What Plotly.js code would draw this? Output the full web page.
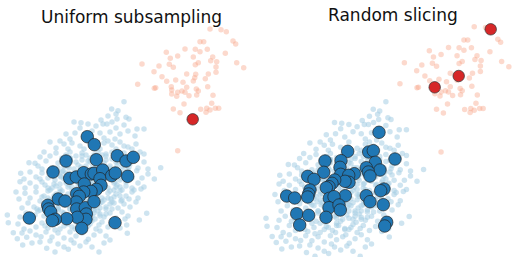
<!DOCTYPE html>
<html><head><meta charset="utf-8">
<script src="https://cdn.plot.ly/plotly-3.0.1.min.js"></script>
<style>html,body{margin:0;padding:0;background:#fff}#chart{width:519px;height:257px}</style>
</head><body><div id="chart"></div>
<script>
// Background cloud A (light blue), same in both panels
const bgBlueX = [124,111.7,118,117,126,129,108,101,116,81,74,103,107,96,116,137,144,80,124,88,112,
75,66,92,100,110,120,128,135,84,104,115,70,
50,56,64,72,80,88,96,104,112,120,128,136,68,84,100,116,132,60,108,124,
44,50,56,62,70,76,82,90,98,106,112,118,124,132,140,40,66,86,102,128,144,
29,35,38,46,52,58,64,70,78,84,90,96,104,110,116,122,130,138,144,160.7,42,74,100,134,148,
20.7,24,30,36,42,48,54,60,66,72,78,86,92,98,104,110,118,124,130,136.7,142,148,154.3,40,64,84,114,132,
20,25,30,36,42,48,54,60,66,72,78,84,90,96,102,108,114,120,126,132,138,144,45,69,93,117,141,
16,25,30,36,42,48,54,60,66,72,78,84,90,96,102,108,114,120,126,132,138,19,57,87,111,129,
22,28,34,40,46,52,58,64,70,76,82,88,94,100,106,112,118,124,130,136,37,61,97,121,
7.3,8.3,20,26,32,38,44,50,56,62,68,74,80,86,92,98,104,110,116,122,128,146.7,139.3,35,65,95,125,
18,24,30,36,42,48,54,60,66,72,78,84,90,96,102,108,114,120,126.7,45,75,99,
13.3,17.3,26.7,22,30,36,41,46,52,58,64,71,70,76,82,88.3,94,100,106,127.3,55,85,
22.7,32,46.7,40,55,58,64,68.3,74,80,86,92,99,104,110,50,
58,62,68,74,80,86,92,98,104,110,116,122,60,66,72,78,84,90,96,102,108,114,120,126,56,62,68,74,80,86,92,98,104,110,116,122,58,64,70,76,82,88,94,100,106,112,50,52,128,70,82,94,106,118,88,76,64,52,100,134,44,40,
63,69,75,81,87,93,99,105,111,117,123,129,55,61,67,73,79,85,91,97,103,109,115,121,127,50,56,62,68,74,80,86,92,98,104,110,116,122,48,54,60,66,72,78,84,90,96,102,108,114,120,46,52,58,64,70,76,82,88,94,100,106,70,76,82,88,94,100,106,112,118,124,60,68,76,84,92];
const bgBlueY = [101.7,109,110.7,119,117.3,119,116,120,114,122.7,122,124,124,126,128,129,129,128,125,124,122,
133,134,131,133,132,134,131,136,136,138,139,139,
142,148,144,143,146,141,147,143,145,142,147,144,149,149,149,149,149,141,141,146,
152,156,153,158,152,156,153,158,152,156,152,158,153,156,152,157,155,155,155,159,154,
162.7,163.3,166,161,168,163,167,161,165,169,162,166,163,168,162,166,164,168,162,167.7,169,169,169,161,169,
173.3,179,172,177,173,178,171,176,173,179,172,176,171,178,174,179,172,177,173,170.7,178,174,179,179,179,179,175,178,
181.7,188,183,187,182,188,184,189,183,187,182,188,183,187,182,188,183,187,182,188,183,187,185,185,185,185,189,
192,193.3,198,192,197,191,196,192,198,193,197,191,196,192,198,193,197,191,196,192,198,199,199,199,199,199,
208,203,207,201,205,202,208,204,209,203,207,202,208,203,207,202,208,204,207,202,209,202,205,201,
215,222.7,217,213,218,211,216,213,218,212,217,213,218,212,216,211,217,213,218,212,216,213.3,220,215,219,219,219,
224,229,222,227,223,228,224,229,223,227,222,226,224,229,222,227,223,228,225,226,229,225,
232.7,238.7,237.3,233,231,235,236.7,232,237,233,238,240,232,236,233,239.3,235,231,236,233.3,230,231,
245,243,248.3,242,252,244,247,249.3,243,246,242,247,252,243,240,241,
168,172,166,175,170,166,174,168,172,166,170,174,184,178,190,186,180,190,182,186,178,190,180,186,194,200,194,201,194,204,200,194,200,204,194,200,210,214,206,212,216,208,213,208,214,209,200,188,170,158,160,157,160,162,226,220,226,220,216,190,196,210,
171,168,173,167,171,166,172,167,171,166,170,167,180,177,182,178,183,177,181,176,181,177,182,178,181,190,186,191,187,192,188,193,188,192,187,191,187,190,198,203,197,204,199,205,198,203,197,202,198,203,196,210,214,208,213,209,215,210,215,210,214,209,158,162,156,161,155,160,154,159,155,160,220,224,222,225,221];

// Background cloud B (salmon), same in both panels
const bgRedX = [210,221,226.3,200,203.7,233,235.7,185,195.3,200,207.3,166.3,177.7,170.3,193.3,212.7,225.3,210.7,216.7,198.3,195.3,169.3,173.3,159,142,236.7,243.7,216,216,208.3,205.3,195.7,194.7,186.7,154,162,166.7,175.7,183,193.3,137.7,155.7,171.3,171.7,171.7,177.7,182,185,186.7,196.3,198.3,207.7,213,196.7,189,176.7,184,211.7,200.7,206.7,210,215.3,218.7,173.3,180,206,154.3,177.7];
const bgRedY = [29,29.7,31.7,41.7,41.7,41,44,49,49.3,51.7,49.3,52.3,56,58.3,57,57,53.3,60.7,61.7,62.7,64.7,64.3,67.3,66,64,62.7,67.7,67,72.3,74,78.7,74.3,77.7,74,71.7,76.7,81.3,80,82.3,81,84.3,87.7,86.7,90,94,92.3,91,92.3,87.3,89,91,86.7,95.3,95,95.7,96.3,104,103.3,109.3,108.3,110,108.3,108.3,109,112.7,112.3,88.3,150.7];

// Left panel: uniform subsample
const uniBlueX = [87.3,94.3,66,96.3,117.3,126,133.3,53,69.7,76.3,83.7,91.3,94,102.7,100,111.7,115.3,127.7,84.3,101,96.3,91,83.7,76.7,79.3,76.3,58.3,65,47.7,48.7,50.7,76.7,85.3,86.3,94,86,77.3,66.7,55.3,52.3,29.3,81.7,115];
const uniBlueY = [136.7,144.7,161,159.7,155.7,161,157.3,172,178.3,177,172.7,174,173.3,170,178.7,175.7,173,176.3,184,185.3,189.3,191.3,192,193.7,196.3,202,199,201,205.3,209,212,209,207.7,214,201.7,219.3,217.3,218.7,219.3,220.7,218,228.3,222.7];
const uniRedX = [192.7];
const uniRedY = [119.3];

// Right panel: random slicing
const sliceBlueX = [379,347.7,368.7,373.3,395,325,341,340,375.3,366.3,380,368.3,370,323.7,340.7,307.7,314,354.3,348.7,349,345,334.7,332,329,326.3,310,308.7,307.7,286.7,294.7,345.3,329.3,334,384,380.7,366.3,370,329,339,340.3,326,296.7,308.7,383.3,299.7,386.7,384.7];
const sliceBlueY = [132.3,151.3,152,150.7,159,161,160.7,167.3,162.3,167.7,170,172,176,172.3,174.3,176.3,179.3,173.7,175.3,182.3,181.3,180,183.3,186.7,187.7,190,194,197,196,198,195.7,198.3,196.7,189,190.7,195.7,201.7,207.7,205,210,217.3,213.7,215.3,204.7,225,222.3,226];
const sliceRedX = [490.7,458.7,434.7];
const sliceRedY = [29.3,76,87.3];

const titles = ['Uniform subsampling', 'Random slicing'];

const blueBg = {size: 5.5, color: 'rgba(166,206,227,0.55)'};
const redBg = {size: 5.5, color: 'rgba(248,160,130,0.4)'};
const blueHi = {size: 12.5, color: '#2077b4', line: {color: '#222', width: 0.7}};
const redHi = {size: 11.5, color: '#d62728', line: {color: '#333', width: 0.7}};

function sc(x, y, m, xa, ya) {
  return {type: 'scatter', mode: 'markers', x: x, y: y, marker: m, xaxis: xa, yaxis: ya, hoverinfo: 'skip'};
}

const data = [
  sc(bgBlueX, bgBlueY, blueBg, 'x', 'y'),
  sc(bgRedX, bgRedY, redBg, 'x', 'y'),
  sc(uniBlueX, uniBlueY, blueHi, 'x', 'y'),
  sc(uniRedX, uniRedY, redHi, 'x', 'y'),
  sc(bgBlueX, bgBlueY, blueBg, 'x2', 'y2'),
  sc(bgRedX, bgRedY, redBg, 'x2', 'y2'),
  sc(sliceBlueX, sliceBlueY, blueHi, 'x3', 'y3'),
  sc(sliceRedX, sliceRedY, redHi, 'x3', 'y3')
];

const hid = {visible: false, showgrid: false, zeroline: false, fixedrange: true};
const layout = {
  width: 519, height: 257,
  margin: {l: 0, r: 0, t: 0, b: 0, pad: 0},
  paper_bgcolor: '#fff', plot_bgcolor: 'rgba(0,0,0,0)',
  showlegend: false, hovermode: false,
  xaxis: Object.assign({}, hid, {domain: [0, 258/519], range: [0, 258]}),
  yaxis: Object.assign({}, hid, {domain: [0, 1], range: [257, 0]}),
  xaxis2: Object.assign({}, hid, {domain: [261/519, 1], range: [2.43, 253.6], anchor: 'y2'}),
  yaxis2: Object.assign({}, hid, {domain: [0, 1], range: [252.7, 2.92], anchor: 'x2'}),
  xaxis3: Object.assign({}, hid, {overlaying: 'x2', range: [261, 519], anchor: 'y3'}),
  yaxis3: Object.assign({}, hid, {overlaying: 'y2', range: [257, 0], anchor: 'x3'}),
  annotations: [
    {text: titles[0], xref: 'paper', yref: 'paper', x: 131/519, y: 1 - 17/257, xanchor: 'center', yanchor: 'middle', showarrow: false, font: {family: 'DejaVu Sans', size: 17, color: '#111'}},
    {text: titles[1], xref: 'paper', yref: 'paper', x: 392.5/519, y: 1 - 14.5/257, xanchor: 'center', yanchor: 'middle', showarrow: false, font: {family: 'DejaVu Sans', size: 17, color: '#111'}}
  ]
};

Plotly.newPlot('chart', data, layout, {staticPlot: true, displayModeBar: false});
</script>
</body></html>
